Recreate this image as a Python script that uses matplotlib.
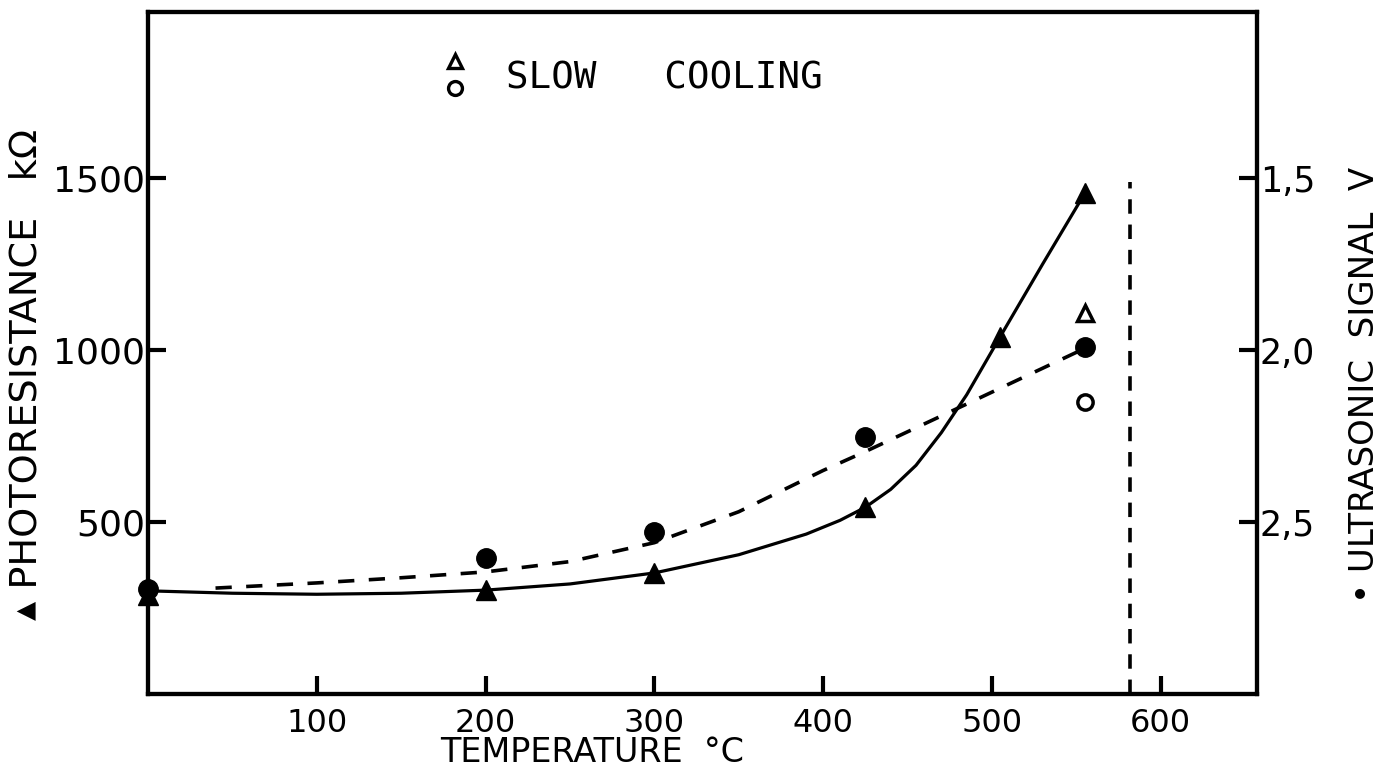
import matplotlib
matplotlib.use("Agg")
import matplotlib.pyplot as plt
from matplotlib.ticker import FixedLocator, FixedFormatter

# ---- data ----
temp_res = [0, 200, 300, 425, 505, 555]              # deg C
photoresistance = [288, 302, 352, 543, 1038, 1456]   # kOhm (filled triangles)

temp_us = [0, 200, 300, 425, 555]                    # deg C
ultrasonic = [2.695, 2.605, 2.53, 2.253, 1.99]       # V (filled circles)

slow_temp = [555]
slow_res = [1107]                                    # open triangle, kOhm
slow_us = [2.15]                                     # open circle, V

# curve traced through the photoresistance points
res_curve_t = [0, 50, 100, 150, 200, 250, 300, 350, 390, 410, 425, 440, 455, 470, 485, 505, 530, 555]
res_curve_v = [300, 293, 290, 293, 302, 320, 352, 405, 465, 505, 543, 595, 665, 760, 870, 1040, 1250, 1456]

# dashed curve traced through the ultrasonic points (V)
us_curve_t = [40, 100, 150, 200, 250, 300, 350, 400, 425, 475, 555]
us_curve_v = [2.692, 2.677, 2.662, 2.645, 2.615, 2.56, 2.47, 2.35, 2.295, 2.18, 1.995]

transition_t = 582
transition_top = 1490

xticks = [100, 200, 300, 400, 500, 600]
left_ticks = [500, 1000, 1500]
right_ticks = [1.5, 2.0, 2.5]
right_labels = ["1,5", "2,0", "2,5"]

# ---- figure ----
plt.rcParams['font.family'] = ['DejaVu Sans']
fig = plt.figure(figsize=(13.89, 7.82), dpi=100)
ax = fig.add_axes([148/1389, 1 - 694/782, (1257-148)/1389, (694-12)/782])
ax2 = ax.twinx()

ax.set_xlim(0, 657)
ax.set_ylim(0, 1983)
ax2.set_ylim(3.0, 3.0 - 1.983)

lw_axis = 3.0
for a in (ax, ax2):
    for s in a.spines.values():
        s.set_linewidth(lw_axis)

ax.plot(res_curve_t, res_curve_v, color='black', lw=2.3, solid_capstyle='round', zorder=3)
ax2.plot(us_curve_t, us_curve_v, color='black', lw=2.6, ls=(0, (4.5, 4)), zorder=3)

ax.plot(temp_res, photoresistance, ls='none', marker='^', ms=15, color='black', zorder=4, clip_on=False)
ax2.plot(temp_us, ultrasonic, ls='none', marker='o', ms=14, color='black', zorder=4, clip_on=False)

ax.plot(slow_temp, slow_res, ls='none', marker='^', ms=11, mfc='white', mec='black', mew=2.5, zorder=4)
ax2.plot(slow_temp, slow_us, ls='none', marker='o', ms=11, mfc='white', mec='black', mew=2.5, zorder=4)

ax.plot([transition_t, transition_t], [0, transition_top], color='black', lw=2.6, ls=(0, (4, 3)), zorder=2)

# ticks
ax.xaxis.set_major_locator(FixedLocator(xticks))
ax.yaxis.set_major_locator(FixedLocator(left_ticks))
ax2.yaxis.set_major_locator(FixedLocator(right_ticks))
ax2.yaxis.set_major_formatter(FixedFormatter(right_labels))
ax.tick_params(axis='x', direction='in', length=13, width=3, labelsize=23, pad=10)
ax.tick_params(axis='y', direction='in', length=13, width=3, labelsize=26, pad=2)
ax2.tick_params(axis='y', direction='in', length=13, width=3, labelsize=25, pad=2)

ax.set_xlabel("TEMPERATURE  °C", fontsize=24)
ax.xaxis.set_label_coords(0.40, -0.062)
ax.set_ylabel("▴ PHOTORESISTANCE   kΩ", fontsize=27.5)
ax.yaxis.set_label_coords(-0.093, 0.468)
ax2.set_ylabel("• ULTRASONIC  SIGNAL  V", fontsize=24.5)
ax2.yaxis.set_label_coords(1.082, 0.453)

# slow cooling legend
ax.text(212, 1791, "SLOW   COOLING", fontsize=27, family='DejaVu Sans Mono',
        va='center', ha='left')
ax.plot([182], [1840], ls='none', marker='^', ms=10, mfc='white', mec='black', mew=2.4, clip_on=False)
ax.plot([182], [1762], ls='none', marker='o', ms=10, mfc='white', mec='black', mew=2.4, clip_on=False)

fig.savefig("out.png", dpi=100)
